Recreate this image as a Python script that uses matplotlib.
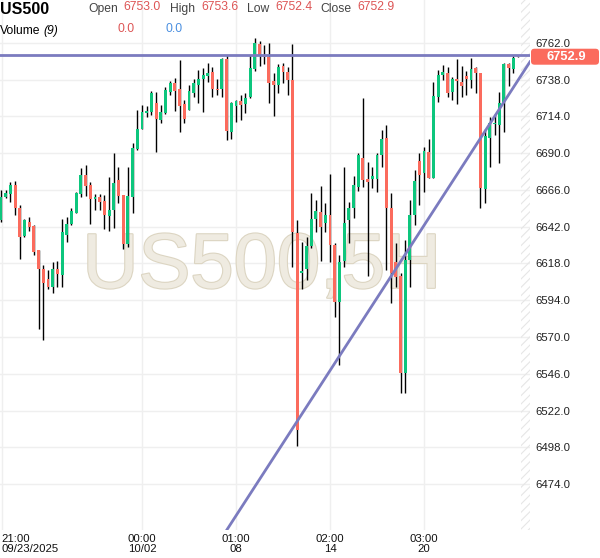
import numpy as np
import matplotlib
matplotlib.use("Agg")
import matplotlib.pyplot as plt
import matplotlib.patheffects as pe
from matplotlib.patches import FancyBboxPatch

plt.rcParams['font.family'] = ['Liberation Sans', 'DejaVu Sans']
plt.rcParams['hatch.linewidth'] = 0.8

# OHLC data, 5H candles
opens = [6646.4, 6661.2, 6663.3, 6669.2, 6654.0, 6636.2, 6645.3, 6642.5, 6626.8, 6614.2,
         6607.7, 6602.9, 6614.2, 6610.5, 6636.6, 6643.8, 6651.2, 6663.4, 6675.7, 6669.2,
         6660.1, 6661.2, 6658.8, 6649.2, 6652.9, 6672.5, 6662.7, 6630.5, 6661.6, 6692.5,
         6705.8, 6716.0, 6717.1, 6722.5, 6711.6, 6716.4, 6730.1, 6736.0, 6731.8, 6722.0,
         6718.1, 6729.4, 6734.5, 6738.1, 6740.3, 6743.1, 6731.8, 6731.8, 6751.4, 6704.0,
         6721.0, 6724.0, 6722.0, 6726.4, 6744.7, 6761.2, 6754.0, 6752.9, 6737.3, 6734.5,
         6746.8, 6743.1, 6737.7, 6638.1, 6611.6, 6614.2, 6629.4, 6646.8, 6651.8, 6644.2,
         6649.7, 6630.1, 6593.1, 6619.9, 6646.4, 6654.0, 6668.1, 6687.0, 6673.1, 6672.9,
         6672.9, 6688.8, 6699.7, 6654.4, 6619.2, 6609.9, 6546.8, 6620.3, 6649.7, 6684.9,
         6676.8, 6691.0, 6673.6, 6726.8, 6741.0, 6742.5, 6730.1, 6738.1, 6736.6, 6740.5,
         6737.7, 6745.7, 6742.5, 6666.6, 6700.1, 6709.0, 6708.4, 6722.5, 6747.9, 6744.9,
         6753.0]
highs = [6665.9, 6665.9, 6671.4, 6671.8, 6656.2, 6646.8, 6648.6, 6643.1, 6626.8, 6617.0,
         6613.8, 6619.2, 6619.7, 6646.8, 6648.6, 6654.0, 6664.9, 6680.1, 6682.3, 6671.4,
         6663.1, 6663.4, 6662.7, 6674.7, 6689.9, 6681.2, 6662.7, 6681.2, 6696.8, 6718.1,
         6721.4, 6720.7, 6730.7, 6730.1, 6721.4, 6733.4, 6737.3, 6738.8, 6750.8, 6724.7,
         6734.5, 6738.1, 6744.2, 6745.3, 6748.6, 6746.0, 6738.1, 6751.8, 6754.0, 6723.6,
         6724.7, 6727.9, 6729.4, 6754.0, 6765.0, 6763.0, 6760.5, 6761.6, 6742.1, 6748.1,
         6748.6, 6746.4, 6761.2, 6646.4, 6632.3, 6635.5, 6663.8, 6659.4, 6668.6, 6657.3,
         6676.2, 6631.2, 6623.6, 6681.2, 6658.4, 6675.1, 6690.3, 6725.7, 6684.4, 6681.2,
         6690.3, 6705.1, 6708.4, 6663.8, 6631.2, 6611.6, 6633.4, 6659.4, 6679.0, 6689.9,
         6693.8, 6699.0, 6736.6, 6744.2, 6747.5, 6746.4, 6739.9, 6751.4, 6746.8, 6743.8,
         6751.8, 6746.4, 6742.5, 6705.5, 6713.8, 6715.5, 6730.1, 6749.0, 6749.0, 6753.4,
         6753.6]
lows = [6645.3, 6660.5, 6658.3, 6649.7, 6620.7, 6635.5, 6639.4, 6623.6, 6575.1, 6568.1,
        6601.2, 6598.6, 6602.5, 6602.9, 6632.3, 6643.1, 6650.7, 6661.2, 6662.3, 6643.6,
        6652.9, 6652.9, 6640.7, 6639.4, 6641.0, 6657.3, 6627.7, 6629.0, 6650.7, 6692.1,
        6705.8, 6713.4, 6714.9, 6691.0, 6709.4, 6715.5, 6727.9, 6717.7, 6704.0, 6709.9,
        6718.1, 6726.8, 6722.5, 6717.1, 6736.6, 6726.8, 6727.9, 6726.8, 6698.6, 6699.2,
        6710.5, 6711.6, 6716.4, 6725.7, 6743.8, 6746.8, 6748.1, 6722.5, 6714.2, 6729.0,
        6735.5, 6727.9, 6616.0, 6498.6, 6601.2, 6607.3, 6627.9, 6638.8, 6619.9, 6638.8,
        6619.2, 6582.9, 6551.8, 6616.0, 6631.2, 6647.5, 6665.5, 6668.1, 6609.9, 6667.0,
        6664.9, 6681.2, 6613.8, 6592.0, 6602.9, 6533.8, 6533.3, 6602.9, 6643.1, 6656.2,
        6664.9, 6673.6, 6673.6, 6723.6, 6737.7, 6726.8, 6724.7, 6722.0, 6726.8, 6727.9,
        6732.3, 6729.0, 6654.0, 6657.7, 6681.2, 6701.8, 6683.8, 6703.6, 6734.0, 6742.1,
        6752.4]
closes = [6661.6, 6664.2, 6669.2, 6654.0, 6635.1, 6646.4, 6641.6, 6625.7, 6614.2, 6605.5,
          6602.9, 6614.2, 6611.2, 6638.4, 6643.8, 6652.3, 6663.8, 6675.7, 6668.8, 6660.1,
          6661.6, 6658.4, 6649.7, 6652.9, 6670.3, 6662.3, 6630.5, 6662.3, 6693.6, 6705.8,
          6717.1, 6717.5, 6729.4, 6712.3, 6717.1, 6731.2, 6736.0, 6730.7, 6721.0, 6712.3,
          6730.5, 6735.5, 6738.1, 6741.0, 6742.5, 6731.8, 6731.4, 6751.2, 6704.7, 6722.5,
          6724.0, 6721.4, 6725.7, 6745.3, 6761.6, 6754.0, 6752.9, 6735.5, 6734.5, 6746.0,
          6743.1, 6737.7, 6638.8, 6509.4, 6613.4, 6629.4, 6646.8, 6652.5, 6642.0, 6649.7,
          6630.1, 6593.1, 6619.2, 6644.6, 6654.0, 6669.2, 6688.8, 6672.5, 6671.4, 6675.1,
          6688.8, 6699.2, 6654.4, 6611.6, 6609.4, 6546.4, 6620.3, 6649.7, 6671.8, 6675.7,
          6691.4, 6674.0, 6727.3, 6741.0, 6743.1, 6729.4, 6738.1, 6737.3, 6734.0, 6738.1,
          6744.9, 6742.1, 6667.5, 6701.2, 6709.4, 6709.4, 6722.5, 6747.9, 6745.3, 6751.8,
          6752.9]

# time axis labels (candle index -> label)
tick_idx = [0.15, 30, 50, 70, 90]
tick_labels = ['21:00\n09/23/2025', '00:00\n10/02', '01:00\n08', '02:00\n14', '03:00\n20']

# price axis
price_ticks = np.arange(6474, 6763, 24)

# drawn lines
level = 6754.0
trend_pts = [(80.64, 6598.5), (112.55, 6749.6)]

symbol = 'US500'
ohlc_last = {'Open': 6753.0, 'High': 6753.6, 'Low': 6752.4, 'Close': 6752.9}

GREEN = '#0dc67d'
RED = '#fb6b5d'
LINE = '#7b7bbf'

fig = plt.figure(figsize=(6.0, 5.58), dpi=100)
W, H = 600, 558
ax = fig.add_axes([0, (H - 530) / H, 530 / W, 530 / H])
ax.set_xlim(-0.21, 112.55)
ax.set_ylim(6444.1, 6789.9)
for s in ax.spines.values():
    s.set_visible(False)

# grid
for p in price_ticks:
    ax.axhline(p, color='#efefef', lw=1, zorder=0)
for t in tick_idx:
    ax.axvline(t, color='#efefef', lw=1, zorder=0)

# watermark
ax.text(0.494, 0.457, 'US500,5H', transform=ax.transAxes, ha='center', va='baseline',
        fontsize=56, color='#efebe1', zorder=0.5,
        path_effects=[pe.withStroke(linewidth=1.6, foreground='#dcd5c2')])

# hatched future area
ax.axvspan(110.6, 112.55, facecolor='none', hatch='////', edgecolor='#e6e6e6', lw=0, zorder=0.6)

# candles
x = np.arange(len(opens))
o = np.array(opens); c = np.array(closes)
ax.vlines(x, lows, highs, color='black', lw=1, zorder=2)
up = c >= o
body = np.maximum(np.abs(c - o), 0.7)
ax.bar(x, body, bottom=np.minimum(o, c), width=0.62,
       color=np.where(up, GREEN, RED), lw=0, zorder=3)

# lines
ax.axhline(level, color=LINE, lw=2, zorder=4)
ax.axline(trend_pts[0], trend_pts[1], color=LINE, lw=2, zorder=4)

# axes ticks
ax.set_xticks(tick_idx)
ax.set_xticklabels(tick_labels, fontsize=8.2, color='#111', linespacing=0.95)
ax.get_xticklabels()[0].set_ha('left')
ax.tick_params(axis='x', length=0, pad=3)
ax.yaxis.tick_right()
ax.set_yticks(price_ticks)
ax.set_yticklabels([f'{p:.1f}' for p in price_ticks], fontsize=8.2, color='#222')
ax.tick_params(axis='y', length=0, pad=4)

# price tag
fig.canvas.draw()
ty = ax.transData.transform((0, closes[-1]))[1] / H
tag = FancyBboxPatch((531 / W, ty - 8 / H), 68 / W, 16 / H,
                     boxstyle='round,pad=0,rounding_size=0.006',
                     transform=fig.transFigure, facecolor=RED, edgecolor='none')
fig.patches.append(tag)
fig.text(566 / W, ty, f'{closes[-1]:.1f}', ha='center', va='center',
         fontsize=9.3, fontweight='bold', color='white')

# header
def ftext(px, py, s, **kw):
    fig.text(px / W, 1 - py / H, s, va='baseline', **kw)

ftext(0, 14, symbol, fontsize=11.5, fontweight='bold', color='black')
label_x = [88, 170, 247, 320]
value_x = [123, 201, 275, 357]
for (name, val), lx, vx in zip(ohlc_last.items(), label_x, value_x):
    ftext(lx, 12, name, fontsize=8.7, color='#444')
    ftext(vx, 9.5, f'{val:.1f}', fontsize=8.7, color='#dd5555')
ftext(0, 34, 'Volume', fontsize=8.7, color='black')
ftext(43, 34, '(9)', fontsize=8.7, color='black', style='italic')
ftext(117, 32, '0.0', fontsize=8.7, color='#dd5555')
ftext(165, 32, '0.0', fontsize=8.7, color='#4a8fe0')

fig.savefig('out.png', dpi=100)
